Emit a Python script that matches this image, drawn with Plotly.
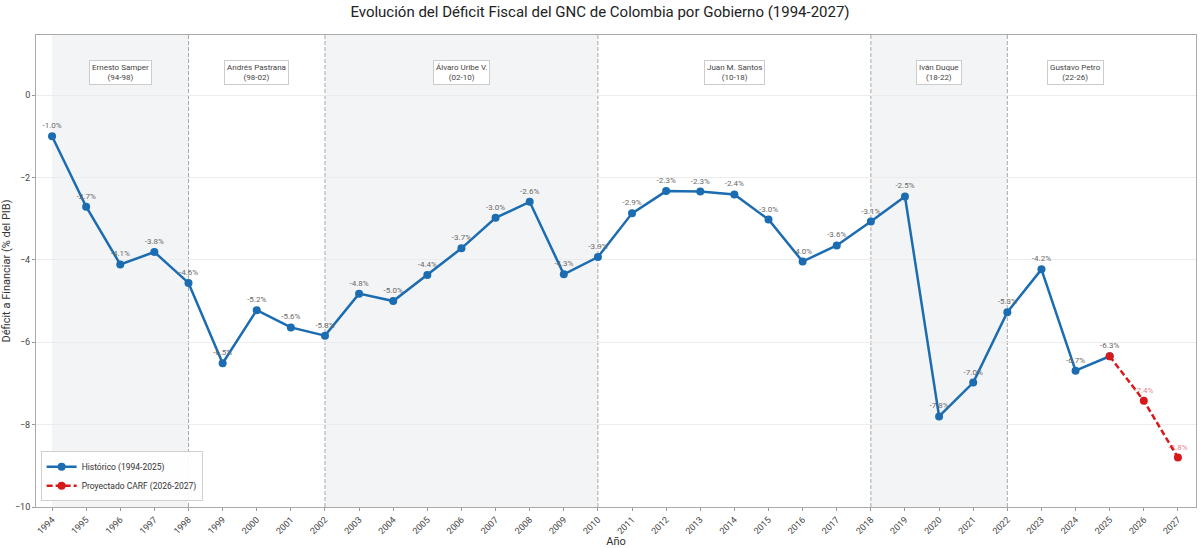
import plotly.graph_objects as go

years_hist = list(range(1994, 2026))
deficit_hist = [-1.00, -2.71, -4.11, -3.81, -4.56, -6.51, -5.22, -5.64, -5.84, -4.82,
                -5.00, -4.37, -3.72, -2.98, -2.59, -4.35, -3.93, -2.87, -2.33, -2.34,
                -2.41, -3.02, -4.04, -3.65, -3.07, -2.46, -7.80, -6.98, -5.27, -4.23,
                -6.69, -6.34]
years_proj = [2025, 2026, 2027]
deficit_proj = [-6.34, -7.42, -8.80]

gov_names = ["Ernesto Samper<br>(94-98)", "Andrés Pastrana<br>(98-02)", "Álvaro Uribe V.<br>(02-10)",
             "Juan M. Santos<br>(10-18)", "Iván Duque<br>(18-22)", "Gustavo Petro<br>(22-26)"]
gov_start = [1994, 1998, 2002, 2010, 2018, 2022]
gov_end = [1998, 2002, 2010, 2018, 2022, 2026]
gov_shaded = [True, False, True, False, True, False]
gov_label_x = [1996, 2000, 2006, 2014, 2020, 2024]
boundaries = [1998, 2002, 2010, 2018, 2022]

FONT = "Roboto"
BLUE = "#1b6cb0"
RED = "#d7191c"

fig = go.Figure()

fig.add_trace(go.Scatter(
    x=years_hist, y=deficit_hist, mode="lines+markers+text",
    name="Histórico (1994-2025)",
    line=dict(color=BLUE, width=2.5),
    marker=dict(color=BLUE, size=8),
    text=[f"{v:.1f}%" for v in deficit_hist],
    textposition="top center",
    textfont=dict(size=8, color="#6a6a6a", family=FONT),
))
fig.add_trace(go.Scatter(
    x=years_proj, y=deficit_proj, mode="lines+markers+text",
    name="Proyectado CARF (2026-2027)",
    line=dict(color=RED, width=2.5, dash="6px,3px"),
    marker=dict(color=RED, size=8),
    text=[""] + [f"{v:.1f}%" for v in deficit_proj[1:]],
    textposition="top center",
    textfont=dict(size=8, color="rgba(215,25,28,0.6)", family=FONT),
))

shapes = []
for s, e, sh in zip(gov_start, gov_end, gov_shaded):
    if sh:
        shapes.append(dict(type="rect", xref="x", yref="paper", x0=s, x1=e, y0=0, y1=1,
                           fillcolor="#f3f4f5", line=dict(width=0), layer="below"))
for b in boundaries:
    shapes.append(dict(type="line", xref="x", yref="paper", x0=b, x1=b, y0=0, y1=1,
                       line=dict(color="#a8a8a8", width=1, dash="4px,2px"), layer="below"))

annotations = []
for name, lx in zip(gov_names, gov_label_x):
    annotations.append(dict(x=lx, y=0.55, xref="x", yref="y", text=name, showarrow=False,
                            font=dict(size=8, color="#444444", family=FONT),
                            bgcolor="white", bordercolor="#cccccc", borderwidth=1, borderpad=2,
                            align="center"))

fig.update_layout(
    width=1200, height=548,
    margin=dict(l=36, r=4, t=35, b=41),
    paper_bgcolor="white", plot_bgcolor="white",
    font=dict(family=FONT, color="#333333"),
    title=dict(text="Evolución del Déficit Fiscal del GNC de Colombia por Gobierno (1994-2027)",
               x=0.5, xanchor="center", y=0.978, yanchor="middle",
               font=dict(size=15, color="#222222", family=FONT)),
    shapes=shapes, annotations=annotations,
    legend=dict(x=0.004, y=0.012, xanchor="left", yanchor="bottom",
                bgcolor="rgba(255,255,255,0.9)", bordercolor="#d0d0d0", borderwidth=1,
                font=dict(size=8.5, color="#333333", family=FONT), tracegroupgap=0,
                itemwidth=30),
    showlegend=True,
)
fig.update_xaxes(range=[1993.53, 2027.53], tickmode="array", tickvals=list(range(1994, 2028)),
                 ticktext=[str(y) for y in range(1994, 2028)], tickangle=-45,
                 tickfont=dict(size=9, color="#444444"), ticks="outside", ticklen=3,
                 tickcolor="#999999", showgrid=False, showline=True, linecolor="#aaaaaa",
                 mirror=True, zeroline=False, automargin=False,
                 title=dict(text="Año", font=dict(size=11), standoff=2))
fig.update_yaxes(range=[-10, 1.46], tickvals=[0, -2, -4, -6, -8, -10],
                 ticktext=["0", "−2", "−4", "−6", "−8", "−10"],
                 tickfont=dict(size=9, color="#444444"), ticks="outside", ticklen=3,
                 tickcolor="#999999", showgrid=True, gridcolor="#ececec", showline=True,
                 linecolor="#aaaaaa", mirror=True, zeroline=False, automargin=False,
                 title=dict(text="Déficit a Financiar (% del PIB)", font=dict(size=11), standoff=6))

fig.write_html("out.html")
